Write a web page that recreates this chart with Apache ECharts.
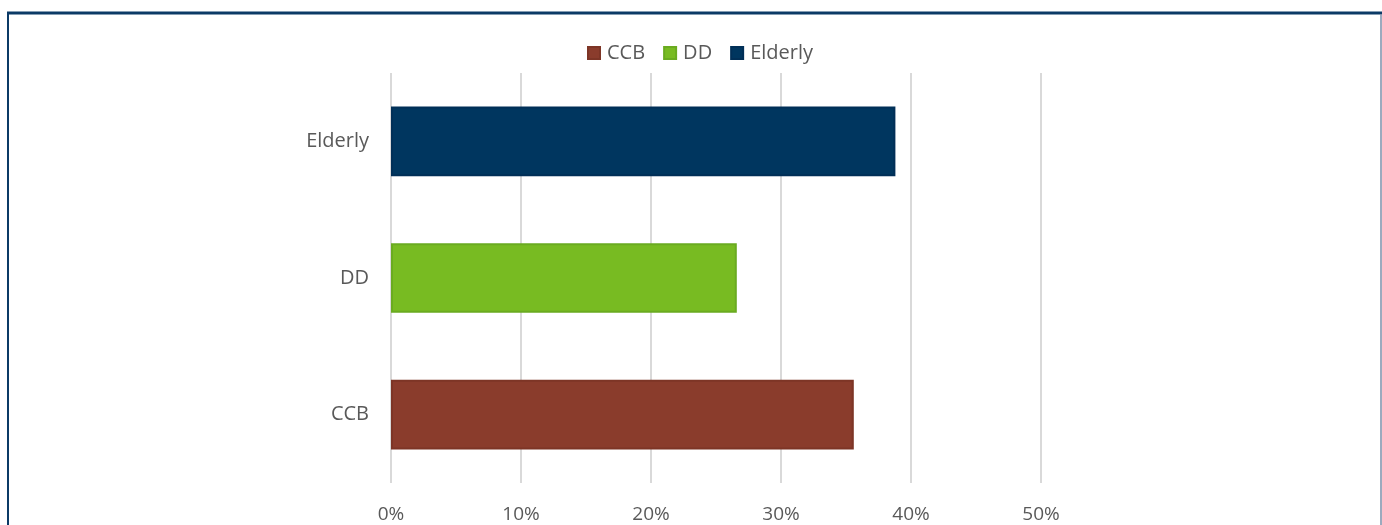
<!DOCTYPE html>
<html>
<head>
<meta charset="utf-8">
<script src="https://cdn.jsdelivr.net/npm/echarts@6/dist/echarts.min.js"></script>
<style>
  html, body { margin: 0; padding: 0; background: #ffffff; }
  #chart { width: 1382px; height: 525px; }
</style>
</head>
<body>
<div id="chart"></div>
<script>
// Share of each group (percent), bottom-to-top category order
const categories = ['CCB', 'DD', 'Elderly'];
const seriesNames = ['CCB', 'DD', 'Elderly'];
const seriesValues = [35.6, 26.6, 38.8];
const seriesColors = ['#8a3c2c', '#78bb22', '#00365f'];
const seriesEdges = ['#7d3526', '#6aab20', '#012f57'];
const xTicks = [0, 10, 20, 30, 40, 50];

const FONT = '"Open Sans", sans-serif';
const TEXT = '#595959';

// One series per group so each has its own legend entry; each value sits on its own category row
const series = seriesNames.map((name, i) => ({
  name: name,
  type: 'bar',
  stack: 'all',
  barWidth: '51%',
  data: categories.map((c, j) => (j === i ? seriesValues[i] : null)),
  itemStyle: {
    color: seriesColors[i],
    borderColor: seriesEdges[i],
    borderWidth: 2
  }
}));

const chart = echarts.init(document.getElementById('chart'), null, { renderer: 'canvas' });
chart.setOption({
  animation: false,
  backgroundColor: '#ffffff',
  textStyle: { fontFamily: FONT },
  legend: {
    top: 38,
    left: 582,
    itemWidth: 12,
    itemHeight: 12,
    itemGap: 18,
    icon: 'rect',
    textStyle: { color: TEXT, fontSize: 20, fontFamily: FONT, padding: [0, 0, 0, 2] },
    data: seriesNames
  },
  grid: { left: 391, right: 341, top: 73, bottom: 42, containLabel: false },
  xAxis: {
    type: 'value',
    min: xTicks[0],
    max: xTicks[xTicks.length - 1],
    interval: 10,
    axisLine: { show: false },
    axisTick: { show: false },
    splitLine: { show: true, lineStyle: { color: '#d9d9d9', width: 2 } },
    axisLabel: {
      formatter: v => v + '%',
      color: TEXT,
      fontSize: 19,
      fontFamily: FONT,
      margin: 22
    }
  },
  yAxis: {
    type: 'category',
    data: categories,
    axisLine: { show: false },
    axisTick: { show: false },
    axisLabel: { color: TEXT, fontSize: 20, fontFamily: FONT, margin: 22 }
  },
  series: series,
  graphic: [
    { type: 'line', shape: { x1: 7, y1: 13, x2: 1382, y2: 13 }, style: { stroke: '#0b3a66', lineWidth: 3 }, z: 100 },
    { type: 'line', shape: { x1: 8, y1: 12, x2: 8, y2: 525 }, style: { stroke: '#0b3a66', lineWidth: 2 }, z: 100 },
    { type: 'line', shape: { x1: 1381, y1: 14, x2: 1381, y2: 525 }, style: { stroke: '#7b8ea8', lineWidth: 1.5 }, z: 100 }
  ]
});
</script>
</body>
</html>
